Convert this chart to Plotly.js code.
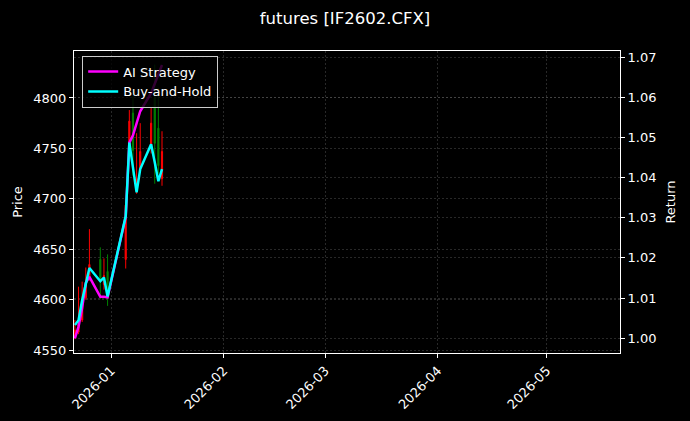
<!DOCTYPE html>
<html>
<head>
<meta charset="utf-8">
<script src="https://cdn.plot.ly/plotly-3.0.1.min.js"></script>
<style>
  html, body { margin: 0; padding: 0; background: #000; }
  #chart { width: 690px; height: 421px; }
</style>
</head>
<body>
<div id="chart"></div>
<script>
// trading days shown in the chart
var dates = ['2025-12-22', '2025-12-23', '2025-12-24', '2025-12-25', '2025-12-26',
             '2025-12-29', '2025-12-30', '2025-12-31',
             '2026-01-05', '2026-01-06', '2026-01-07', '2026-01-08', '2026-01-09',
             '2026-01-12', '2026-01-13', '2026-01-14', '2026-01-15'];

// IF2602 daily bars
var opens  = [4563, 4568, 4580, 4602, 4620, 4640, 4615, 4628, 4640, 4745, 4785, 4708, 4730, 4750, 4800, 4770, 4720];
var highs  = [4580, 4613, 4618, 4632, 4670, 4652, 4641, 4645, 4697, 4788, 4802, 4765, 4775, 4790, 4833, 4810, 4767];
var lows   = [4561, 4566, 4578, 4600, 4619, 4601, 4610, 4594, 4631, 4742, 4723, 4705, 4728, 4745, 4715, 4725, 4713];
var closes = [4570, 4576, 4598, 4617, 4635, 4620, 4624, 4602, 4694, 4777, 4748, 4720, 4747, 4775, 4755, 4733, 4747];

// cumulative returns
var aiReturn = [1.0000, 1.0029, 1.0076, 1.0138, 1.0153, 1.0103, 1.0103, 1.0102,
                1.0302, 1.0487, 1.0505, 1.0535, 1.0565, 1.0610, 1.0635, 1.0660, 1.0680];
var bhReturn = [1.0033, 1.0045, 1.0095, 1.0135, 1.0175, 1.0142, 1.0151, 1.0104,
                1.0304, 1.0487, 1.0423, 1.0363, 1.0421, 1.0483, 1.0438, 1.0391, 1.0421];

var GRID = 'rgba(128,128,128,0.45)';

var candles = {
    type: 'candlestick',
    x: dates, open: opens, high: highs, low: lows, close: closes,
    increasing: { line: { color: '#ff0000', width: 1 }, fillcolor: '#ff0000' },
    decreasing: { line: { color: '#008000', width: 1 }, fillcolor: '#008000' },
    whiskerwidth: 0,
    showlegend: false,
    hoverinfo: 'skip',
    yaxis: 'y'
};

var aiLine = {
    type: 'scatter', mode: 'lines', name: 'AI Strategy',
    x: dates, y: aiReturn,
    line: { color: '#ff00ff', width: 2.5 },
    yaxis: 'y2'
};

var bhLine = {
    type: 'scatter', mode: 'lines', name: 'Buy-and-Hold',
    x: dates, y: bhReturn,
    line: { color: '#00ffff', width: 2.5 },
    yaxis: 'y2'
};

var axisStyle = {
    showline: true, linecolor: '#ffffff', linewidth: 1, mirror: true,
    ticks: 'outside', tickcolor: '#ffffff', ticklen: 4,
    showgrid: true, gridcolor: GRID, griddash: '2px,2px', gridwidth: 0.7,
    zeroline: false
};

var layout = {
    width: 690, height: 421,
    paper_bgcolor: '#000000', plot_bgcolor: '#000000',
    font: { family: 'DejaVu Sans, sans-serif', color: '#ffffff', size: 13 },
    margin: { l: 74, r: 70, t: 51, b: 68 },
    title: { text: 'futures [IF2602.CFX]', font: { size: 16.5 }, x: 0.5, xref: 'container',
             y: 1 - 18 / 421, yref: 'container', yanchor: 'middle' },
    boxgap: 0.55,
    xaxis: Object.assign({}, axisStyle, {
        type: 'date',
        range: ['2025-12-21 18:00', '2026-05-21 05:00'],
        tick0: '2026-01-01', dtick: 'M1', tickformat: '%Y-%m',
        tickangle: -45,
        rangeslider: { visible: false }
    }),
    yaxis: Object.assign({}, axisStyle, {
        range: [4547.3, 4846.5], dtick: 50,
        title: { text: 'Price', font: { size: 13 }, standoff: 7 }
    }),
    yaxis2: Object.assign({}, axisStyle, {
        overlaying: 'y', side: 'right',
        range: [0.99633, 1.0715], dtick: 0.01, tickformat: '.2f',
        title: { text: 'Return', font: { size: 13 }, standoff: 10 }
    }),
    legend: {
        x: 0.015, y: 0.985, xanchor: 'left', yanchor: 'top',
        bgcolor: 'rgba(0,0,0,0.8)', bordercolor: '#cccccc', borderwidth: 1,
        font: { size: 13 }
    },
    showlegend: true
};

Plotly.newPlot('chart', [candles, aiLine, bhLine], layout, { displayModeBar: false, staticPlot: true });
</script>
</body>
</html>
